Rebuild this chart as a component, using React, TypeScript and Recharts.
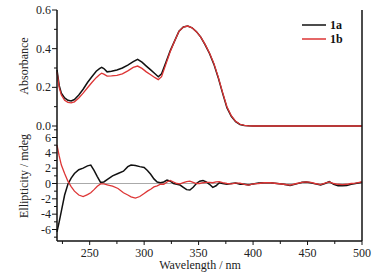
import React from 'react';
import { LineChart, Line, XAxis, YAxis, ReferenceLine, Legend } from 'recharts';

// Absorbance panel
const absWl = [220, 222, 224, 227, 230, 233, 236, 240, 244, 248, 252, 256, 259, 261, 263, 266, 270, 275, 280, 285, 290, 294, 298, 302, 306, 310, 313, 316, 320, 324, 328, 332, 336, 340, 344, 348, 352, 356, 360, 364, 368, 372, 376, 380, 384, 388, 392, 396, 400, 420, 450, 480, 500];
const abs1a = [0.29, 0.21, 0.17, 0.145, 0.133, 0.13, 0.137, 0.16, 0.19, 0.225, 0.255, 0.283, 0.297, 0.303, 0.297, 0.28, 0.283, 0.29, 0.3, 0.315, 0.333, 0.345, 0.33, 0.31, 0.29, 0.27, 0.255, 0.27, 0.33, 0.39, 0.44, 0.49, 0.512, 0.517, 0.508, 0.488, 0.46, 0.42, 0.375, 0.32, 0.25, 0.17, 0.095, 0.05, 0.022, 0.008, 0.003, 0.001, 0, 0, 0, 0, 0];
const abs1b = [0.28, 0.2, 0.16, 0.133, 0.122, 0.12, 0.125, 0.145, 0.17, 0.198, 0.225, 0.25, 0.265, 0.273, 0.268, 0.258, 0.259, 0.262, 0.27, 0.285, 0.303, 0.31, 0.298, 0.28, 0.265, 0.25, 0.24, 0.255, 0.32, 0.385, 0.44, 0.49, 0.512, 0.517, 0.508, 0.488, 0.46, 0.422, 0.378, 0.324, 0.254, 0.174, 0.1, 0.053, 0.024, 0.009, 0.003, 0.001, 0, 0, 0, 0, 0];

// CD panel
const cdWl = [220, 222, 224, 227, 230, 233, 236, 240, 244, 248, 251, 254, 257, 260, 263, 267, 271, 276, 281, 285, 288, 292, 296, 300, 303, 306, 309, 312, 315, 318, 321, 324, 327, 330, 333, 336, 339, 342, 345, 348, 351, 354, 357, 360, 363, 366, 369, 372, 376, 380, 384, 388, 392, 396, 400, 405, 410, 416, 422, 428, 434, 440, 445, 449, 453, 457, 462, 466, 470, 474, 478, 482, 486, 490, 494, 500];
const cd1a = [-6.3, -5.0, -3.6, -1.5, -0.1, 0.7, 1.3, 1.8, 2.0, 2.3, 2.4, 1.7, 0.9, 0.15, 0.2, 0.6, 1.0, 1.3, 1.6, 2.2, 2.4, 2.35, 2.2, 2.1, 1.7, 1.2, 0.6, 0.2, 0.1, 0.2, 0.45, 0.3, 0.0, -0.1, -0.2, -0.5, -0.8, -0.85, -0.5, 0.0, 0.3, 0.4, 0.2, -0.1, -0.5, -0.3, 0.1, 0.0, -0.1, 0.0, 0.05, -0.1, -0.1, -0.2, -0.05, 0.05, 0.1, 0.1, 0.0, -0.1, -0.25, -0.05, 0.15, 0.2, 0.1, -0.05, -0.2, 0.0, 0.25, -0.1, -0.3, -0.3, -0.25, -0.1, 0.0, 0.15];
const cd1b = [5.0, 3.6, 2.4, 1.3, 0.3, -0.4, -1.0, -1.5, -1.7, -1.45, -1.2, -0.8, -0.35, -0.05, -0.05, -0.2, -0.35, -0.65, -1.2, -1.5, -1.75, -1.9, -1.7, -1.3, -1.0, -0.75, -0.45, -0.3, -0.1, -0.1, 0.2, 0.4, 0.2, 0.0, -0.05, 0.1, 0.25, 0.3, 0.15, 0.0, 0.0, 0.1, 0.15, 0.15, 0.1, 0.2, 0.25, 0.1, 0.0, -0.05, 0.05, 0.05, -0.1, -0.2, -0.05, 0.0, 0.1, 0.1, 0.0, -0.1, -0.2, 0.0, 0.15, 0.2, 0.15, 0.0, -0.15, 0.05, 0.2, 0.0, -0.1, -0.15, -0.1, 0.0, 0.05, 0.2];

const absTicks = [0, 0.1, 0.2, 0.3, 0.4, 0.5, 0.6];
const cdTicks = [-7, -6, -5, -4, -3, -2, -1, 0, 1, 2, 3, 4, 5, 6, 7];
const wlTicks = [225, 250, 275, 300, 325, 350, 375, 400, 425, 450, 475, 500];

const absData = absWl.map((w, i) => ({ w, a: abs1a[i], b: abs1b[i] }));
const cdData = cdWl.map((w, i) => ({ w, a: cd1a[i], b: cd1b[i] }));

const RED = '#dd3535';
const FONT = '"Liberation Serif", "Times New Roman", serif';
const AX = { stroke: '#111', strokeWidth: 1.5 };

const absTick = (props: any) => {
  const { x, y, payload } = props;
  const v = payload.value;
  const major = Math.round(v * 10) % 2 === 0;
  return (
    <g>
      <line x1={x - (major ? 5 : 3)} x2={x} y1={y} y2={y} stroke="#111" strokeWidth={1} />
      {major && (
        <text x={x - 6} y={y + 4} textAnchor="end" fontSize={12} fontFamily={FONT} fill="#222">
          {v.toFixed(1)}
        </text>
      )}
    </g>
  );
};

const cdTick = (props: any) => {
  const { x, y, payload } = props;
  const v = payload.value;
  const major = v % 2 === 0;
  return (
    <g>
      <line x1={x - (major ? 5 : 3)} x2={x} y1={y} y2={y} stroke="#111" strokeWidth={1} />
      {major && (
        <text x={x - 6} y={y + 4} textAnchor="end" fontSize={12} fontFamily={FONT} fill="#222">
          {String(v)}
        </text>
      )}
    </g>
  );
};

const wlTick = (props: any) => {
  const { x, y, payload } = props;
  const v = payload.value;
  const major = v % 50 === 0;
  return (
    <g>
      <line x1={x} x2={x} y1={y} y2={y + (major ? 4 : 3)} stroke="#111" strokeWidth={1} />
      {major && (
        <text x={x} y={y + 16} textAnchor="middle" fontSize={12} fontFamily={FONT} fill="#222">
          {String(v)}
        </text>
      )}
    </g>
  );
};

const LegendBox = (props: any) => {
  const payload = props.payload || [];
  return (
    <div style={{ fontFamily: FONT, fontSize: 12, fontWeight: 'bold', lineHeight: '14px' }}>
      {payload.map((p: any) => (
        <div key={p.value} style={{ display: 'flex', alignItems: 'center', height: 14 }}>
          <svg width={28} height={14}>
            <line x1={0} x2={24} y1={7} y2={7} stroke={p.color} strokeWidth={1.5} />
          </svg>
          <span style={{ color: '#111' }}>{p.value}</span>
        </div>
      ))}
    </div>
  );
};

export default function App() {
  return (
    <div style={{ position: 'fixed', left: 0, top: 0, width: 382, height: 278, background: '#fff' }}>
      <div style={{ position: 'absolute', left: 0, top: 0 }}>
        <LineChart width={382} height={278} data={absData} margin={{ top: 10, right: 0, bottom: 152, left: 0 }}>
          <XAxis dataKey="w" type="number" domain={[220, 500]} height={0} tick={false} tickLine={false} axisLine={AX} />
          <XAxis xAxisId="top" dataKey="w" type="number" domain={[220, 500]} orientation="top" height={0} tick={false} tickLine={false} axisLine={AX} />
          <YAxis
            type="number"
            domain={[0, 0.6]}
            ticks={absTicks}
            interval={0}
            width={57}
            tickSize={0}
            tickMargin={0}
            tickLine={false}
            axisLine={AX}
            tick={absTick}
            label={() => (
              <text x={28} y={66} transform="rotate(-90 28 66)" textAnchor="middle" fontSize={12} fontFamily={FONT} fill="#222">
                Absorbance
              </text>
            )}
          />
          <YAxis yAxisId="r" orientation="right" width={20} tick={false} tickLine={false} axisLine={AX} />
          <Legend
            verticalAlign="middle"
            align="center"
            layout="vertical"
            content={LegendBox}
            wrapperStyle={{ position: 'absolute', top: 18, left: 302, width: 60, height: 28 }}
          />
          <Line name="1a" dataKey="a" stroke="#111" strokeWidth={1.5} dot={false} isAnimationActive={false} />
          <Line name="1b" dataKey="b" stroke={RED} strokeWidth={1.3} dot={false} isAnimationActive={false} />
        </LineChart>
      </div>
      <div style={{ position: 'absolute', left: 0, top: 0 }}>
        <LineChart width={382} height={278} data={cdData} margin={{ top: 126, right: 0, bottom: 0, left: 0 }}>
          <XAxis
            dataKey="w"
            type="number"
            domain={[220, 500]}
            ticks={wlTicks}
            interval={0}
            height={37}
            tickSize={0}
            tickMargin={0}
            tickLine={false}
            axisLine={AX}
            tick={wlTick}
            label={() => (
              <text x={200} y={269} textAnchor="middle" fontSize={12} fontFamily={FONT} fill="#222">
                Wavelength / nm
              </text>
            )}
          />
          <YAxis
            type="number"
            domain={[-7.5, 7.5]}
            ticks={cdTicks}
            interval={0}
            width={57}
            tickSize={0}
            tickMargin={0}
            tickLine={false}
            axisLine={AX}
            tick={cdTick}
            label={() => (
              <text x={28} y={176} transform="rotate(-90 28 176)" textAnchor="middle" fontSize={12} fontFamily={FONT} fill="#222">
                Ellipticity / mdeg
              </text>
            )}
          />
          <YAxis yAxisId="r" orientation="right" width={20} tick={false} tickLine={false} axisLine={AX} />
          <ReferenceLine y={0} stroke="#aaaaaa" strokeWidth={1} />
          <Line dataKey="a" stroke="#111" strokeWidth={1.5} dot={false} isAnimationActive={false} />
          <Line dataKey="b" stroke={RED} strokeWidth={1.3} dot={false} isAnimationActive={false} />
        </LineChart>
      </div>
    </div>
  );
}
